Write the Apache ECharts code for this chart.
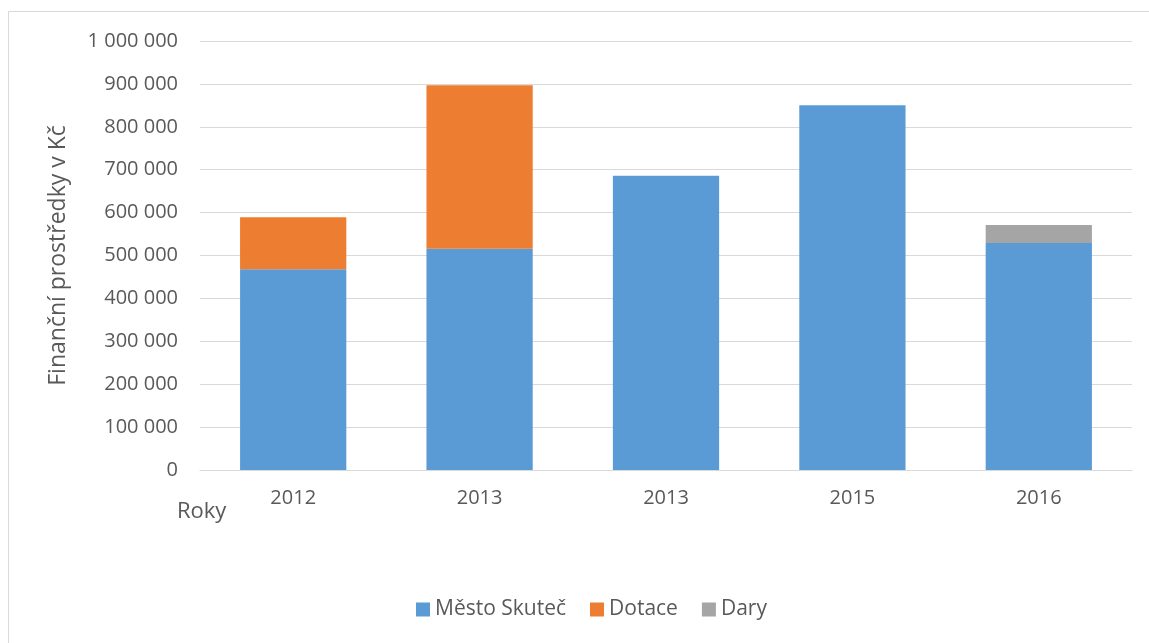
<!DOCTYPE html>
<html>
<head>
<meta charset="utf-8">
<script src="https://cdn.jsdelivr.net/npm/echarts@6/dist/echarts.min.js"></script>
<style>
html,body{margin:0;padding:0;background:#fff;}
#c{width:1149px;height:643px;}
</style>
</head>
<body>
<div id="c"></div>
<script>
const categories = ['2012', '2013', '2013', '2015', '2016'];
const mestoSkutec = [468000, 516000, 686000, 850000, 529000];
const dotace = [121000, 381000, 0, 0, 0];
const dary = [0, 0, 0, 0, 42000];
const seriesNames = ['Město Skuteč', 'Dotace', 'Dary'];

const font = 'Open Sans, Liberation Sans, sans-serif';
const txt = '#595959';
const chart = echarts.init(document.getElementById('c'));
chart.setOption({
  animation: false,
  color: ['#5B9BD5', '#ED7D31', '#A5A5A5'],
  graphic: [
    { type: 'line', shape: { x1: 8.5, y1: 11.5, x2: 1149, y2: 11.5 }, style: { stroke: '#d9d9d9', lineWidth: 1 }, silent: true },
    { type: 'line', shape: { x1: 8.5, y1: 11.5, x2: 8.5, y2: 643 }, style: { stroke: '#d9d9d9', lineWidth: 1 }, silent: true },
    { type: 'text', left: 177, top: 501, style: { text: 'Roky', font: '22px ' + font, fill: txt } }
  ],
  grid: { left: 200, right: 17, top: 41, bottom: 173 },
  legend: {
    bottom: 18, left: 411,
    itemWidth: 14, itemHeight: 14, itemGap: 24, icon: 'rect',
    textStyle: { color: txt, fontSize: 21, fontFamily: font },
    data: seriesNames
  },
  xAxis: {
    type: 'category', data: categories,
    axisLine: { lineStyle: { color: '#d9d9d9' } },
    axisTick: { show: false },
    axisLabel: { color: txt, fontSize: 20, fontFamily: font, margin: 18 }
  },
  yAxis: {
    type: 'value', min: 0, max: 1000000, interval: 100000,
    name: 'Finanční prostředky v Kč', nameLocation: 'middle', nameGap: 130, nameRotate: 90,
    nameTextStyle: { color: txt, fontSize: 23, fontFamily: font },
    axisLine: { show: false }, axisTick: { show: false },
    splitLine: { lineStyle: { color: '#d9d9d9' } },
    axisLabel: {
      color: txt, fontSize: 20, fontFamily: font, margin: 22,
      formatter: v => String(v).replace(/\B(?=(\d{3})+(?!\d))/g, ' ')
    }
  },
  series: [
    { name: seriesNames[0], type: 'bar', stack: 's', barWidth: '57%', data: mestoSkutec },
    { name: seriesNames[1], type: 'bar', stack: 's', data: dotace },
    { name: seriesNames[2], type: 'bar', stack: 's', data: dary }
  ]
});
</script>
</body>
</html>
